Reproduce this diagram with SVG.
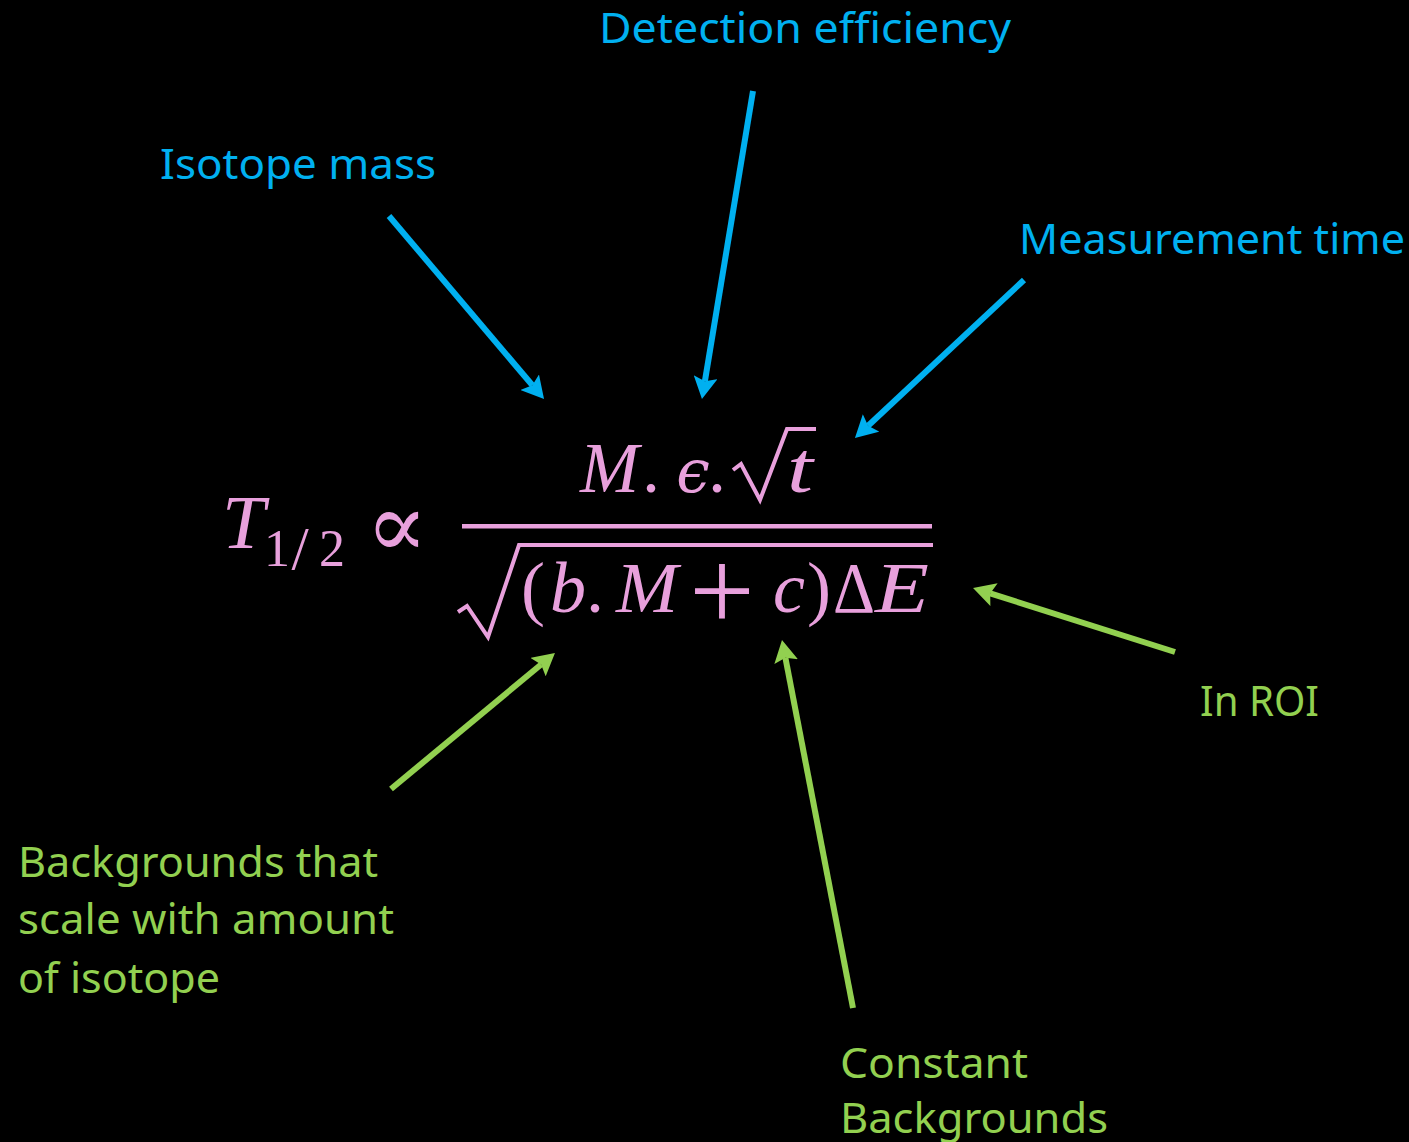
<svg xmlns="http://www.w3.org/2000/svg" width="1409" height="1142" viewBox="0 0 1409 1142">
  <style>
    .lbl { font-family: "Noto Sans", "Open Sans", sans-serif; font-size: 41px; }
    .blue { fill: #00B0F0; }
    .green { fill: #92D050; }
    .m { font-family: "Liberation Serif", "DejaVu Serif", serif; fill: #E8A0DC; font-size: 72px; }
    .it { font-style: italic; }
    .ab { stroke: #00B0F0; stroke-width: 6; fill: none; marker-end: url(#ahB); }
    .ag { stroke: #92D050; stroke-width: 6; fill: none; marker-end: url(#ahG); }
    .rad { stroke: #E8A0DC; fill: none; stroke-width: 4; stroke-linejoin: miter; }
  </style>
  <defs>
    <marker id="ahB" viewBox="0 0 22 24" markerWidth="22" markerHeight="24" refX="4" refY="12" markerUnits="userSpaceOnUse" orient="auto">
      <path d="M0,0 L22,12 L0,24 L4,12 z" fill="#00B0F0"/>
    </marker>
    <marker id="ahG" viewBox="0 0 22 24" markerWidth="22" markerHeight="24" refX="4" refY="12" markerUnits="userSpaceOnUse" orient="auto">
      <path d="M0,0 L22,12 L0,24 L4,12 z" fill="#92D050"/>
    </marker>
  </defs>
  <rect x="0" y="0" width="1409" height="1142" fill="#000000"/>

  <g id="formula">
    <text class="m it" x="222" y="548" style="font-size:76px" textLength="43" lengthAdjust="spacingAndGlyphs">T</text>
    <text class="m" x="277" y="566" style="font-size:52px" text-anchor="middle">1</text>
    <text class="m" x="300" y="569" style="font-size:62px" text-anchor="middle">/</text>
    <text class="m" x="332" y="566" style="font-size:52px" text-anchor="middle">2</text>
    <text x="397" y="557" font-family="DejaVu Serif, serif" font-size="92" fill="#E8A0DC" text-anchor="middle">∝</text>

    <text class="m it" x="580" y="492" textLength="59" lengthAdjust="spacingAndGlyphs">M</text>
    <text class="m" x="651" y="492" text-anchor="middle">.</text>
    <text x="693" y="492" font-family="DejaVu Serif, serif" font-style="italic" font-size="60" fill="#E8A0DC" text-anchor="middle">ϵ</text>
    <text class="m" x="717" y="492" text-anchor="middle">.</text>
    <path class="rad" d="M733,470 L741,464 L760,500 L787,429 L816,429"/>
    <text class="m it" x="787" y="492" textLength="26" lengthAdjust="spacingAndGlyphs">t</text>

    <rect x="462" y="524" width="470" height="4.5" fill="#E8A0DC"/>

    <path class="rad" d="M458,612 L467,606 L488,637 L519,545 L933,545"/>
    <text class="m" x="521" y="612">(</text>
    <text class="m it" x="550" y="612">b</text>
    <text class="m" x="595" y="612" text-anchor="middle">.</text>
    <text class="m it" x="616" y="612" textLength="62" lengthAdjust="spacingAndGlyphs">M</text>
    <text class="m" x="722" y="630" style="font-size:116px" text-anchor="middle">+</text>
    <text class="m it" x="773" y="612">c</text>
    <text class="m" x="807" y="612">)</text>
    <text class="m" x="833" y="612" textLength="42" lengthAdjust="spacingAndGlyphs">Δ</text>
    <text class="m it" x="875" y="612" textLength="54" lengthAdjust="spacingAndGlyphs">E</text>
  </g>

  <g id="label-detection"><text class="lbl blue" x="599" y="43" textLength="412" lengthAdjust="spacingAndGlyphs">Detection efficiency</text></g>
  <g id="label-isotope"><text class="lbl blue" x="160" y="179" textLength="276" lengthAdjust="spacingAndGlyphs">Isotope mass</text></g>
  <g id="label-time"><text class="lbl blue" x="1019" y="254" textLength="386" lengthAdjust="spacingAndGlyphs">Measurement time</text></g>
  <g id="label-roi"><text class="lbl green" x="1200" y="716" textLength="119" lengthAdjust="spacingAndGlyphs">In ROI</text></g>
  <g id="label-scale">
    <text class="lbl green" x="18" y="877" textLength="360" lengthAdjust="spacingAndGlyphs">Backgrounds that</text>
    <text class="lbl green" x="18" y="934" textLength="376" lengthAdjust="spacingAndGlyphs">scale with amount</text>
    <text class="lbl green" x="18" y="993" textLength="202" lengthAdjust="spacingAndGlyphs">of isotope</text>
  </g>
  <g id="label-constant">
    <text class="lbl green" x="840" y="1078" textLength="188" lengthAdjust="spacingAndGlyphs">Constant</text>
    <text class="lbl green" x="840" y="1133" textLength="268" lengthAdjust="spacingAndGlyphs">Backgrounds</text>
  </g>

  <g id="connectors">
    <line class="ab" x1="389" y1="216" x2="532.4" y2="385.3"/>
    <line class="ab" x1="753" y1="91" x2="704.9" y2="381.2"/>
    <line class="ab" x1="1024" y1="280" x2="868.1" y2="425.7"/>
    <line class="ag" x1="1175" y1="652" x2="990.2" y2="593.4"/>
    <line class="ag" x1="391" y1="789" x2="541.1" y2="664.5"/>
    <line class="ag" x1="853" y1="1008" x2="785.4" y2="657.7"/>
  </g>
</svg>
